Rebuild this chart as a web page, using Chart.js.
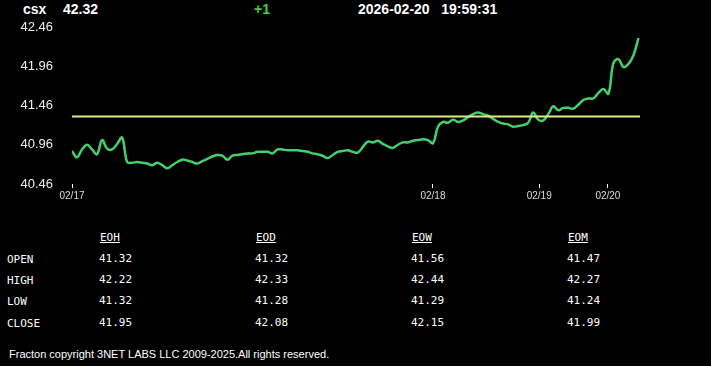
<!DOCTYPE html>
<html>
<head>
<meta charset="utf-8">
<script src="https://cdn.jsdelivr.net/npm/chart.js@4/dist/chart.umd.min.js"></script>
<style>
  html, body { margin: 0; padding: 0; background: #000; width: 711px; height: 366px; overflow: hidden; }
  body { position: relative; font-family: "Liberation Sans", Arial, sans-serif; color: #fff; }
  #chart-wrap { position: absolute; left: 0; top: 0; width: 711px; height: 205px; }
  .hdr { position: absolute; top: 1px; font-size: 14px; font-weight: bold; line-height: 16px; white-space: pre; }
  #quote-table { position: absolute; left: 0; top: 0; font-family: "DejaVu Sans Mono", monospace; font-size: 11px; }
  .cell { position: absolute; white-space: pre; line-height: 13px; }
  .col-head { text-decoration: underline; }
  #footer { position: absolute; left: 9px; top: 348px; font-size: 11px; line-height: 13px; white-space: pre; }
</style>
</head>
<body>
<div class="hdr" id="sym" style="left:23px"></div>
<div class="hdr" id="last" style="left:63px"></div>
<div class="hdr" id="chg" style="left:254px; color:#3fd13f"></div>
<div class="hdr" id="stamp" style="left:358px"></div>

<div id="chart-wrap"><canvas id="price-chart" width="711" height="205"></canvas></div>

<div id="quote-table"></div>
<div id="footer">Fracton copyright 3NET LABS LLC 2009-2025.All rights reserved.</div>

<script>
// ── Quote header ─────────────────────────────────────────────
const symbol    = "csx";
const lastPrice = "42.32";
const change    = "+1";
const stampText = "2026-02-20   19:59:31";

// ── Intraday series (one sample per bar) ─────────────────────
const prices = [
  40.88, 40.80, 40.90, 40.96, 40.90, 40.84, 41.02, 40.91, 40.90, 40.97,
  41.05, 40.74, 40.73, 40.74, 40.73, 40.72, 40.70, 40.73, 40.70, 40.66,
  40.70, 40.74, 40.77, 40.76, 40.74, 40.72, 40.75, 40.78, 40.81, 40.83,
  40.82, 40.77, 40.82, 40.83, 40.84, 40.85, 40.85, 40.87, 40.87, 40.87,
  40.85, 40.90, 40.90, 40.89, 40.89, 40.89, 40.88, 40.87, 40.85, 40.84,
  40.82, 40.79, 40.83, 40.87, 40.88, 40.89, 40.87, 40.86, 40.93, 41.00,
  40.99, 41.01, 40.97, 40.94, 40.92, 40.96, 40.99, 40.99, 41.01, 41.02,
  41.03, 41.02, 40.98, 41.19, 41.25, 41.24, 41.28, 41.25, 41.27, 41.31,
  41.35, 41.37, 41.35, 41.33, 41.29, 41.25, 41.23, 41.22, 41.19, 41.20,
  41.21, 41.24, 41.37, 41.28, 41.27, 41.35, 41.45, 41.40, 41.43, 41.43,
  41.42, 41.47, 41.53, 41.55, 41.55, 41.62, 41.67, 41.61, 42.00, 42.05,
  41.95, 41.99, 42.10, 42.32
];
const prevClose = 41.32;

// ── Axis ticks ───────────────────────────────────────────────
const dateTickBars   = [0, 72, 93.2, 106.9];
const dateTickLabels = ["02/17", "02/18", "02/19", "02/20"];
const priceTicks     = [40.46, 40.96, 41.46, 41.96, 42.46];
const lastBar        = 113.3;

// ── Summary table ────────────────────────────────────────────
const periods   = ["EOH", "EOD", "EOW", "EOM"];
const rowNames  = ["OPEN", "HIGH", "LOW", "CLOSE"];
const eohValues = ["41.32", "42.22", "41.32", "41.95"];
const eodValues = ["41.32", "42.33", "41.28", "42.08"];
const eowValues = ["41.56", "42.44", "41.29", "42.15"];
const eomValues = ["41.47", "42.27", "41.24", "41.99"];

document.getElementById("sym").textContent   = symbol;
document.getElementById("last").textContent  = lastPrice;
document.getElementById("chg").textContent   = change;
document.getElementById("stamp").textContent = stampText;

// table layout
(function buildTable() {
  const el = document.getElementById("quote-table");
  const colX = [99, 255, 411, 567];
  const rowY = [252, 273, 294, 316];
  const cols = [eohValues, eodValues, eowValues, eomValues];
  let html = "";
  periods.forEach((p, i) => {
    html += `<div class="cell col-head" style="left:${colX[i] + 1}px; top:231px">${p}</div>`;
  });
  rowNames.forEach((r, j) => {
    html += `<div class="cell" style="left:7px; top:${rowY[j] + 1}px">${r}</div>`;
    cols.forEach((c, i) => {
      html += `<div class="cell" style="left:${colX[i]}px; top:${rowY[j]}px">${c[j]}</div>`;
    });
  });
  el.innerHTML = html;
})();

// ── Chart ────────────────────────────────────────────────────
const pricePoints = prices.map((p, i) => ({ x: i, y: p }));
const refPoints   = [{ x: 0, y: prevClose }, { x: lastBar, y: prevClose }];

new Chart(document.getElementById("price-chart"), {
  type: "line",
  data: {
    datasets: [
      {
        data: refPoints,
        borderColor: "#dcec86",
        borderWidth: 2,
        pointRadius: 0,
        tension: 0,
      },
      {
        data: pricePoints,
        borderColor: "#45cf6c",
        borderWidth: 2.5,
        pointRadius: 0,
        tension: 0.4,
      },
    ],
  },
  options: {
    responsive: false,
    animation: false,
    devicePixelRatio: 1,
    layout: { padding: { left: 0, top: 27, right: 71, bottom: 0 } },
    plugins: { legend: { display: false }, tooltip: { enabled: false } },
    scales: {
      x: {
        type: "linear",
        min: 0,
        max: lastBar,
        afterBuildTicks: s => { s.ticks = dateTickBars.map(v => ({ value: v })); },
        afterFit: s => { s.height = 21; },
        grid: { drawOnChartArea: false, drawTicks: true, tickLength: 4, color: "#fff", lineWidth: 1 },
        border: { display: false },
        ticks: {
          autoSkip: false,
          maxRotation: 0,
          padding: 2,
          color: "#ddd",
          font: { family: "Liberation Sans, Arial, sans-serif", size: 10 },
          callback: (v, i) => dateTickLabels[i],
        },
      },
      y: {
        min: priceTicks[0],
        max: priceTicks[priceTicks.length - 1],
        afterBuildTicks: s => { s.ticks = priceTicks.map(v => ({ value: v })); },
        afterFit: s => { s.width = 72; },
        grid: { display: false },
        border: { display: false },
        ticks: {
          padding: 11,
          color: "#eee",
          font: { family: "Liberation Sans, Arial, sans-serif", size: 13 },
          callback: v => v.toFixed(2),
        },
      },
    },
  },
});
</script>
</body>
</html>
